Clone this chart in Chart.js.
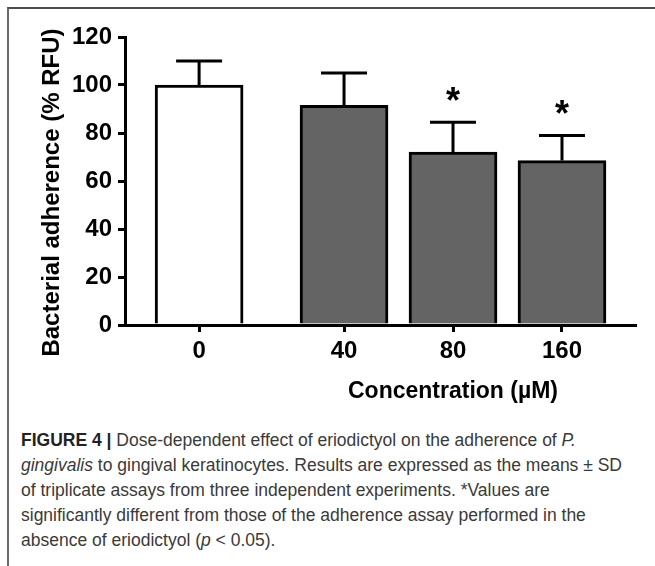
<!DOCTYPE html>
<html>
<head>
<meta charset="utf-8">
<script src="https://cdn.jsdelivr.net/npm/chart.js@4.4.0/dist/chart.umd.min.js"></script>
<style>
  body { margin: 0; background: #fff; }
  #wrap { position: relative; width: 655px; height: 566px; overflow: hidden; background: #fff; }
  #frame { position: absolute; left: 7px; top: 7px; right: 0; bottom: 0;
           border-top: 2px solid #4d4d4d; border-left: 2px solid #6a6a6a; }
  #chart { position: absolute; left: 0; top: 0; }
  #xTitle { position: absolute; left: 303px; width: 300px; top: 374px; text-align: center;
            font: bold 23px 'Liberation Sans', Arial, sans-serif; color: #000; line-height: 32px; }
  #caption { position: absolute; left: 21px; top: 427.5px; width: 634px;
             font: 17.5px 'Liberation Sans', Arial, sans-serif; color: #3a3a3a; line-height: 25px; white-space: nowrap; }
  #caption b { color: #222; }
</style>
</head>
<body>
<div id="wrap">
  <div id="frame"></div>
  <canvas id="chart" width="655" height="380"></canvas>
  <div id="xTitle">Concentration (µM)</div>
  <div id="caption">
    <b>FIGURE 4 |</b> Dose-dependent effect of eriodictyol on the adherence of <i>P.</i><br>
    <i>gingivalis</i> to gingival keratinocytes. Results are expressed as the means ± SD<br>
    of triplicate assays from three independent experiments. *Values are<br>
    significantly different from those of the adherence assay performed in the<br>
    absence of eriodictyol (<i>p</i> &lt; 0.05).
  </div>
</div>
<script>
// data
const doses = ['0', '40', '80', '160'];
const slots = [0, 1.33, 2.33, 3.33];      // x position of each dose (gap after control)
const means = [100, 91.5, 72, 68.5];
const sd = [10, 13.5, 12.5, 10.5];
const significant = [false, false, true, true];
const barColors = ['#ffffff', '#646464', '#646464', '#646464'];
const yTicks = [0, 20, 40, 60, 80, 100, 120];
const yTitle = 'Bacterial adherence (% RFU)';

const sans = "'Liberation Sans', Arial, sans-serif";

// error bars (upper only), significance stars, y title
const errorBars = {
  id: 'errorBars',
  afterDatasetsDraw(chart) {
    const { ctx, scales: { x, y } } = chart;
    ctx.save();
    ctx.strokeStyle = '#000';
    ctx.fillStyle = '#000';
    ctx.lineWidth = 3;
    ctx.font = 'bold 36px ' + sans;
    ctx.textAlign = 'center';
    ctx.textBaseline = 'alphabetic';
    means.forEach((m, i) => {
      const px = x.getPixelForValue(slots[i]);
      const top = y.getPixelForValue(m + sd[i]);
      const base = y.getPixelForValue(m);
      ctx.beginPath();
      ctx.moveTo(px, base);
      ctx.lineTo(px, top);
      ctx.moveTo(px - 23, top);
      ctx.lineTo(px + 23, top);
      ctx.stroke();
      if (significant[i]) {
        ctx.fillText('*', px, top - 9);
      }
    });

    // axis title, sits a little below the middle of the axis in the original
    ctx.translate(52, y.bottom - (y.bottom - y.top) * 0.46);
    ctx.rotate(-Math.PI / 2);
    ctx.font = 'bold 24px ' + sans;
    ctx.textBaseline = 'middle';
    ctx.fillText(yTitle, 0, 0);
    ctx.restore();
  }
};

new Chart(document.getElementById('chart'), {
  type: 'bar',
  data: {
    datasets: [{
      data: means.map((m, i) => ({ x: slots[i], y: m })),
      backgroundColor: barColors,
      borderColor: '#000',
      borderWidth: 3,
      barThickness: 88
    }]
  },
  options: {
    responsive: false,
    animation: false,
    events: [],
    layout: { padding: { left: 34, top: 37, right: 20, bottom: 0 } },
    plugins: { legend: { display: false }, tooltip: { enabled: false } },
    scales: {
      x: {
        type: 'linear',
        offset: false,
        min: -0.68,
        max: 4.0,
        afterBuildTicks: (scale) => { scale.ticks = slots.map(v => ({ value: v })); },
        afterFit: (scale) => { scale.height = 55; },
        ticks: {
          callback: (value) => doses[slots.indexOf(value)],
          color: '#000',
          font: { family: sans, size: 24, weight: 'bold' },
          padding: 5,
          maxRotation: 0,
          autoSkip: false
        },
        grid: { offset: false, drawOnChartArea: false, drawTicks: true, tickLength: 7, color: '#000', lineWidth: 3 },
        border: { display: true, color: '#000', width: 3 }
      },
      y: {
        min: 0,
        max: 120,
        afterBuildTicks: (scale) => { scale.ticks = yTicks.map(v => ({ value: v })); },
        afterFit: (scale) => { scale.width = 91; },
        ticks: {
          color: '#000',
          font: { family: sans, size: 24, weight: 'bold' },
          padding: 6
        },
        grid: { drawOnChartArea: false, drawTicks: true, tickLength: 7, color: '#000', lineWidth: 3 },
        border: { display: true, color: '#000', width: 3 }
      }
    }
  },
  plugins: [errorBars]
});
</script>
</body>
</html>
